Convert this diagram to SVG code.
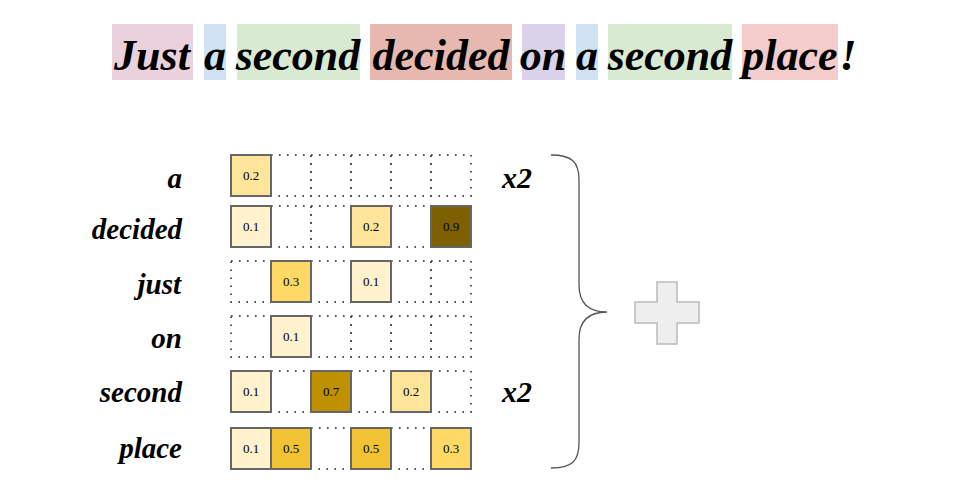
<svg xmlns="http://www.w3.org/2000/svg" width="960" height="496" viewBox="0 0 960 496">
<style>
.t{font-family:"Liberation Serif","DejaVu Serif",serif;font-weight:bold;font-style:italic;fill:#000}
.title{font-size:44px;text-anchor:middle}
.lab{font-size:29px;text-anchor:end}
.x2{font-size:30px}
.v{font-family:"Liberation Serif","DejaVu Serif",serif;font-size:13px;text-anchor:middle;fill:#000}
.f{stroke:#666;stroke-width:2}
.e{fill:none;stroke:#555;stroke-width:2;stroke-dasharray:1.6 6.4}
.c1{fill:#fff2cc}.c2{fill:#ffe599}.c3{fill:#ffd966}.c5{fill:#f1c232}.c7{fill:#bf9000}.c9{fill:#7f6000}
</style>
<g id="title">
<rect x="112" y="24" width="81" height="56" fill="#ead1dc"/>
<rect x="204" y="24" width="22" height="56" fill="#cfe2f3"/>
<rect x="237" y="24" width="123" height="56" fill="#d9ead3"/>
<rect x="370" y="24" width="142" height="56" fill="#e6b8af"/>
<rect x="522" y="24" width="43" height="56" fill="#d9d2e9"/>
<rect x="576" y="24" width="22" height="56" fill="#cfe2f3"/>
<rect x="608" y="24" width="124" height="56" fill="#d9ead3"/>
<rect x="742" y="24" width="96" height="56" fill="#f4cccc"/>
<text class="t title" x="152" y="70">Just</text>
<text class="t title" x="215" y="70">a</text>
<text class="t title" x="298" y="70">second</text>
<text class="t title" x="441" y="70">decided</text>
<text class="t title" x="543" y="70">on</text>
<text class="t title" x="587" y="70">a</text>
<text class="t title" x="670" y="70">second</text>
<text class="t title" x="790" y="70">place</text>
<text class="t title" x="848" y="70">!</text>
</g>
<g id="labels">
<text class="t lab" x="182" y="188">a</text>
<text class="t lab" x="182" y="239">decided</text>
<text class="t lab" x="181" y="294">just</text>
<text class="t lab" x="182" y="348">on</text>
<text class="t lab" x="182" y="402">second</text>
<text class="t lab" x="182" y="458">place</text>
</g>
<g id="row-a">
<rect class="e" x="271" y="155" width="40" height="41"/><rect class="e" x="311" y="155" width="40" height="41"/><rect class="e" x="351" y="155" width="40" height="41"/><rect class="e" x="391" y="155" width="40" height="41"/><rect class="e" x="431" y="155" width="40" height="41"/>
<rect class="f c2" x="231" y="155" width="40" height="41"/><text class="v" x="251" y="180">0.2</text>
</g>
<g id="row-decided">
<rect class="e" x="271" y="206" width="40" height="41"/><rect class="e" x="311" y="206" width="40" height="41"/><rect class="e" x="391" y="206" width="40" height="41"/>
<rect class="f c1" x="231" y="206" width="40" height="41"/><text class="v" x="251" y="231">0.1</text>
<rect class="f c2" x="351" y="206" width="40" height="41"/><text class="v" x="371" y="231">0.2</text>
<rect class="f c9" x="431" y="206" width="40" height="41"/><text class="v" x="451" y="231">0.9</text>
</g>
<g id="row-just">
<rect class="e" x="231" y="261" width="40" height="41"/><rect class="e" x="311" y="261" width="40" height="41"/><rect class="e" x="391" y="261" width="40" height="41"/><rect class="e" x="431" y="261" width="40" height="41"/>
<rect class="f c3" x="271" y="261" width="40" height="41"/><text class="v" x="291" y="286">0.3</text>
<rect class="f c1" x="351" y="261" width="40" height="41"/><text class="v" x="371" y="286">0.1</text>
</g>
<g id="row-on">
<rect class="e" x="231" y="316" width="40" height="41"/><rect class="e" x="311" y="316" width="40" height="41"/><rect class="e" x="351" y="316" width="40" height="41"/><rect class="e" x="391" y="316" width="40" height="41"/><rect class="e" x="431" y="316" width="40" height="41"/>
<rect class="f c1" x="271" y="316" width="40" height="41"/><text class="v" x="291" y="341">0.1</text>
</g>
<g id="row-second">
<rect class="e" x="271" y="371" width="40" height="41"/><rect class="e" x="351" y="371" width="40" height="41"/><rect class="e" x="431" y="371" width="40" height="41"/>
<rect class="f c1" x="231" y="371" width="40" height="41"/><text class="v" x="251" y="396">0.1</text>
<rect class="f c7" x="311" y="371" width="40" height="41"/><text class="v" x="331" y="396">0.7</text>
<rect class="f c2" x="391" y="371" width="40" height="41"/><text class="v" x="411" y="396">0.2</text>
</g>
<g id="row-place">
<rect class="e" x="311" y="428" width="40" height="41"/><rect class="e" x="391" y="428" width="40" height="41"/>
<rect class="f c1" x="231" y="428" width="40" height="41"/><text class="v" x="251" y="453">0.1</text>
<rect class="f c5" x="271" y="428" width="40" height="41"/><text class="v" x="291" y="453">0.5</text>
<rect class="f c5" x="351" y="428" width="40" height="41"/><text class="v" x="371" y="453">0.5</text>
<rect class="f c3" x="431" y="428" width="40" height="41"/><text class="v" x="451" y="453">0.3</text>
</g>
<g id="multipliers">
<text class="t x2" x="502" y="188">x2</text>
<text class="t x2" x="502" y="402">x2</text>
</g>
<g id="connectors">
<path d="M551,155 C572,155 579,162 579,180 L579,285 C579,302 588,312 607,312 C588,312 579,322 579,339 L579,443 C579,461 572,468 551,468" fill="none" stroke="#555" stroke-width="1.3"/>
</g>
<g id="plus">
<path d="M657,282 H677 V302 H699 V323 H677 V344 H657 V323 H635 V302 H657 Z" fill="#eeeeee" stroke="#bbbbbb" stroke-width="1.5"/>
</g>
</svg>
